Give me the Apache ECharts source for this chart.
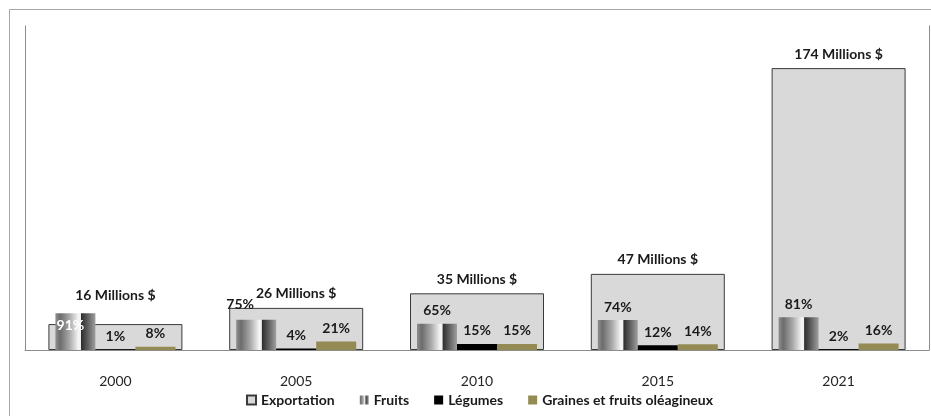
<!DOCTYPE html>
<html>
<head>
<meta charset="utf-8">
<script src="https://cdn.jsdelivr.net/npm/echarts@6/dist/echarts.min.js"></script>
<style>
  html, body { margin: 0; padding: 0; background: #fff; }
  #chart { width: 931px; height: 416px; }
</style>
</head>
<body>
<div id="chart"></div>
<script>
// Export values (millions $) and product shares (%) by year
const categories = ['2000', '2005', '2010', '2015', '2021'];
const exportation = [16, 26, 35, 47, 174];
const fruits = [91, 75, 65, 74, 81];
const legumes = [1, 4, 15, 12, 2];
const graines = [8, 21, 15, 14, 16];

const FONT = 'Lato, "Open Sans", sans-serif';

// Hand-placed label adjustments (index -> label overrides)
const exportLabelTweaks = { 0: { offset: [0, -15] } };
const fruitLabelTweaks = {
  0: { position: 'insideTop', distance: 5, color: '#ffffff', offset: [-5, 0] },
  1: { offset: [-16, -2] }
};

function withTweaks(values, tweaks) {
  return values.map((v, i) => tweaks[i] ? { value: v, label: tweaks[i] } : v);
}

const pctLabel = {
  show: true,
  position: 'top',
  distance: 6,
  formatter: '{c}%',
  fontFamily: FONT,
  fontWeight: 'bold',
  fontSize: 14,
  color: '#1a1a1a'
};

const fruitGradient = new echarts.graphic.LinearGradient(0, 0, 1, 0, [
  { offset: 0, color: '#8e8e8e' },
  { offset: 0.12, color: '#6c6c6c' },
  { offset: 0.35, color: '#a8a8a8' },
  { offset: 0.58, color: '#f6f6f6' },
  { offset: 0.63, color: '#eeeeee' },
  { offset: 0.65, color: '#2e2e2e' },
  { offset: 0.8, color: '#5c5c5c' },
  { offset: 1, color: '#a0a0a0' }
]);

const chart = echarts.init(document.getElementById('chart'));
chart.setOption({
  animation: false,
  backgroundColor: '#ffffff',
  graphic: [{
    type: 'rect',
    shape: { x: 9.5, y: 9.5, width: 1000, height: 1000 },
    style: { fill: 'none', stroke: '#a6a6a6', lineWidth: 1 },
    silent: true
  }],
  grid: { left: 25, right: 2, top: 26, bottom: 66 },
  legend: {
    left: 246,
    top: 393,
    padding: 0,
    icon: 'rect',
    itemWidth: 9,
    itemHeight: 9,
    itemGap: 25,
    textStyle: { fontFamily: FONT, fontWeight: 'bold', fontSize: 14, color: '#1a1a1a' },
    data: ['Exportation', 'Fruits', 'Légumes', 'Graines et fruits oléagineux']
  },
  xAxis: [
    {
      type: 'category',
      data: categories,
      axisLine: { lineStyle: { color: '#8c8c8c', width: 1 } },
      axisTick: { show: false },
      axisLabel: { margin: 24, fontFamily: FONT, fontSize: 14, color: '#262626' }
    },
    {
      type: 'category',
      data: categories,
      show: false
    }
  ],
  yAxis: [
    {
      type: 'value',
      min: 0,
      max: 200,
      axisLine: { show: true, lineStyle: { color: '#8c8c8c' } },
      axisLabel: { show: false },
      axisTick: { show: false },
      splitLine: { show: false }
    },
    {
      type: 'value',
      min: 0,
      max: 800,
      position: 'right',
      axisLine: { show: true, lineStyle: { color: '#8c8c8c' } },
      axisLabel: { show: false },
      axisTick: { show: false },
      splitLine: { show: false }
    }
  ],
  series: [
    {
      name: 'Exportation',
      type: 'bar',
      xAxisIndex: 0,
      yAxisIndex: 0,
      barWidth: 134,
      z: 1,
      data: withTweaks(exportation, exportLabelTweaks),
      itemStyle: { color: '#d9d9d9', borderColor: '#3a3a3a', borderWidth: 1 },
      label: {
        show: true,
        position: 'top',
        distance: 7,
        formatter: '{c} Millions $',
        fontFamily: FONT,
        fontWeight: 'bold',
        fontSize: 14,
        color: '#1a1a1a'
      }
    },
    {
      name: 'Fruits',
      type: 'bar',
      xAxisIndex: 1,
      yAxisIndex: 1,
      barWidth: 40,
      barGap: 0,
      z: 3,
      data: withTweaks(fruits, fruitLabelTweaks),
      itemStyle: { color: fruitGradient },
      label: pctLabel
    },
    {
      name: 'Légumes',
      type: 'bar',
      xAxisIndex: 1,
      yAxisIndex: 1,
      barWidth: 40,
      barGap: 0,
      z: 3,
      data: legumes,
      itemStyle: { color: '#000000' },
      label: pctLabel
    },
    {
      name: 'Graines et fruits oléagineux',
      type: 'bar',
      xAxisIndex: 1,
      yAxisIndex: 1,
      barWidth: 40,
      barGap: 0,
      z: 3,
      data: graines,
      itemStyle: { color: '#948a54' },
      label: pctLabel
    }
  ]
});
</script>
</body>
</html>
